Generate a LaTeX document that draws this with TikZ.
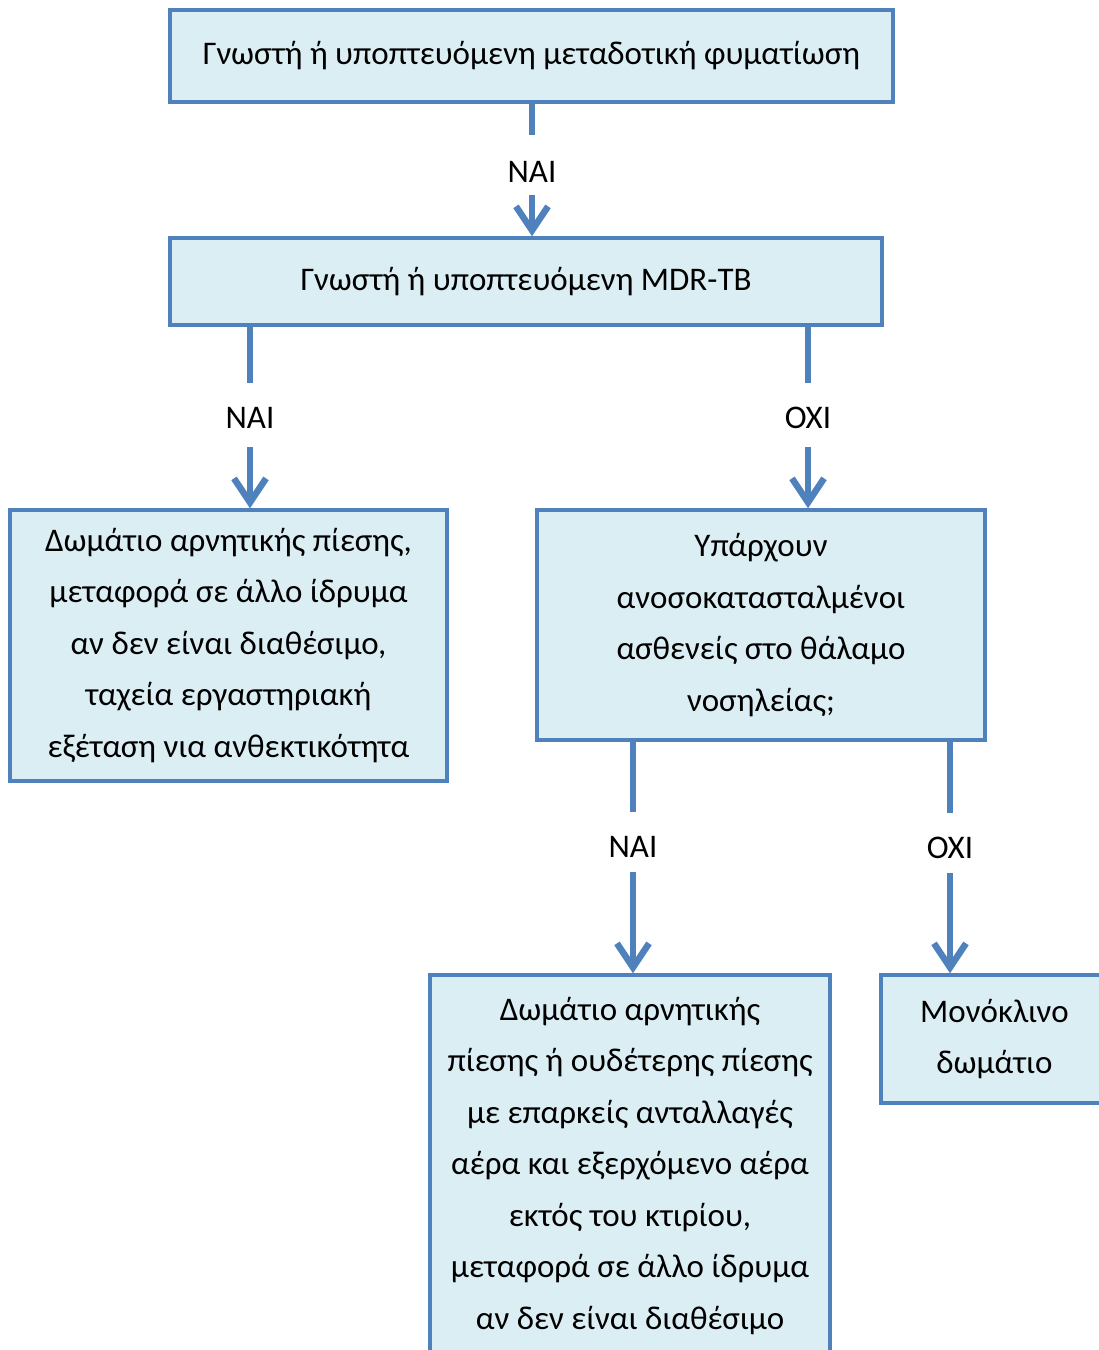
\documentclass[tikz,border=0pt]{standalone}
\usepackage{fontspec}
\setmainfont{Carlito}
\usepackage{tikz}
\usetikzlibrary{arrows.meta,positioning}
\definecolor{boxline}{HTML}{4F81BD}
\definecolor{boxfill}{HTML}{DBEEF4}

\begin{document}
\begin{tikzpicture}[
  x=1pt,y=-1pt,
  font=\fontsize{33}{51.5}\selectfont,
  >={Straight Barb[length=24pt,width=32pt]},
  box/.style={draw=boxline,fill=boxfill,line width=3.5pt,align=center,inner sep=0pt},
  lab/.style={inner sep=0pt},
  arr/.style={draw=boxline,line width=6.5pt}]
\clip (0,0) rectangle (1099,1350);
% boxes
\node[box,minimum width=723,minimum height=92] (tb) at (531.5,56) {Γνωστή ή υποπτευόμενη μεταδοτική φυματίωση};
\node[box,minimum width=712,minimum height=87] (mdr) at (526,281.5) {Γνωστή ή υποπτευόμενη MDR-TB};
\node[box,minimum width=437,minimum height=271] (neg) at (228.5,645.5) {Δωμάτιο αρνητικής πίεσης,\\ μεταφορά σε άλλο ίδρυμα\\ αν δεν είναι διαθέσιμο,\\ ταχεία εργαστηριακή\\ εξέταση νια ανθεκτικότητα};
\node[box,minimum width=448,minimum height=230] (imm) at (761,625) {Υπάρχουν\\ ανοσοκατασταλμένοι\\ ασθενείς στο θάλαμο\\ νοσηλείας;};
\node[box,minimum width=400,minimum height=382] (negb) at (630,1166) {Δωμάτιο αρνητικής\\ πίεσης ή ουδέτερης πίεσης\\ με επαρκείς ανταλλαγές\\ αέρα και εξερχόμενο αέρα\\ εκτός του κτιρίου,\\ μεταφορά σε άλλο ίδρυμα\\ αν δεν είναι διαθέσιμο};
\node[box,minimum width=227,minimum height=128] (single) at (994.5,1039) {Μονόκλινο\\ δωμάτιο};
% answers
\node[lab] (y1) at (532,172) {ΝΑΙ};
\node[lab] (y2) at (250,418) {ΝΑΙ};
\node[lab] (n2) at (808,418) {ΟΧΙ};
\node[lab] (y3) at (633,847) {ΝΑΙ};
\node[lab] (n3) at (950,848) {ΟΧΙ};
% connectors
\draw[arr,shorten >=26pt] (tb.south -| y1) -- (y1.north);
\draw[arr,->,shorten <=12pt] (y1.south) -- (mdr.north -| y1);
\draw[arr,shorten >=24pt] (mdr.south -| y2) -- (y2.north);
\draw[arr,->,shorten <=18pt] (y2.south) -- (neg.north -| y2);
\draw[arr,shorten >=24pt] (mdr.south -| n2) -- (n2.north);
\draw[arr,->,shorten <=18pt] (n2.south) -- (imm.north -| n2);
\draw[arr,shorten >=24pt] (imm.south -| y3) -- (y3.north);
\draw[arr,->,shorten <=14pt] (y3.south) -- (negb.north -| y3);
\draw[arr,shorten >=24pt] (imm.south -| n3) -- (n3.north);
\draw[arr,->,shorten <=14pt] (n3.south) -- (single.north -| n3);
\end{tikzpicture}
\end{document}
